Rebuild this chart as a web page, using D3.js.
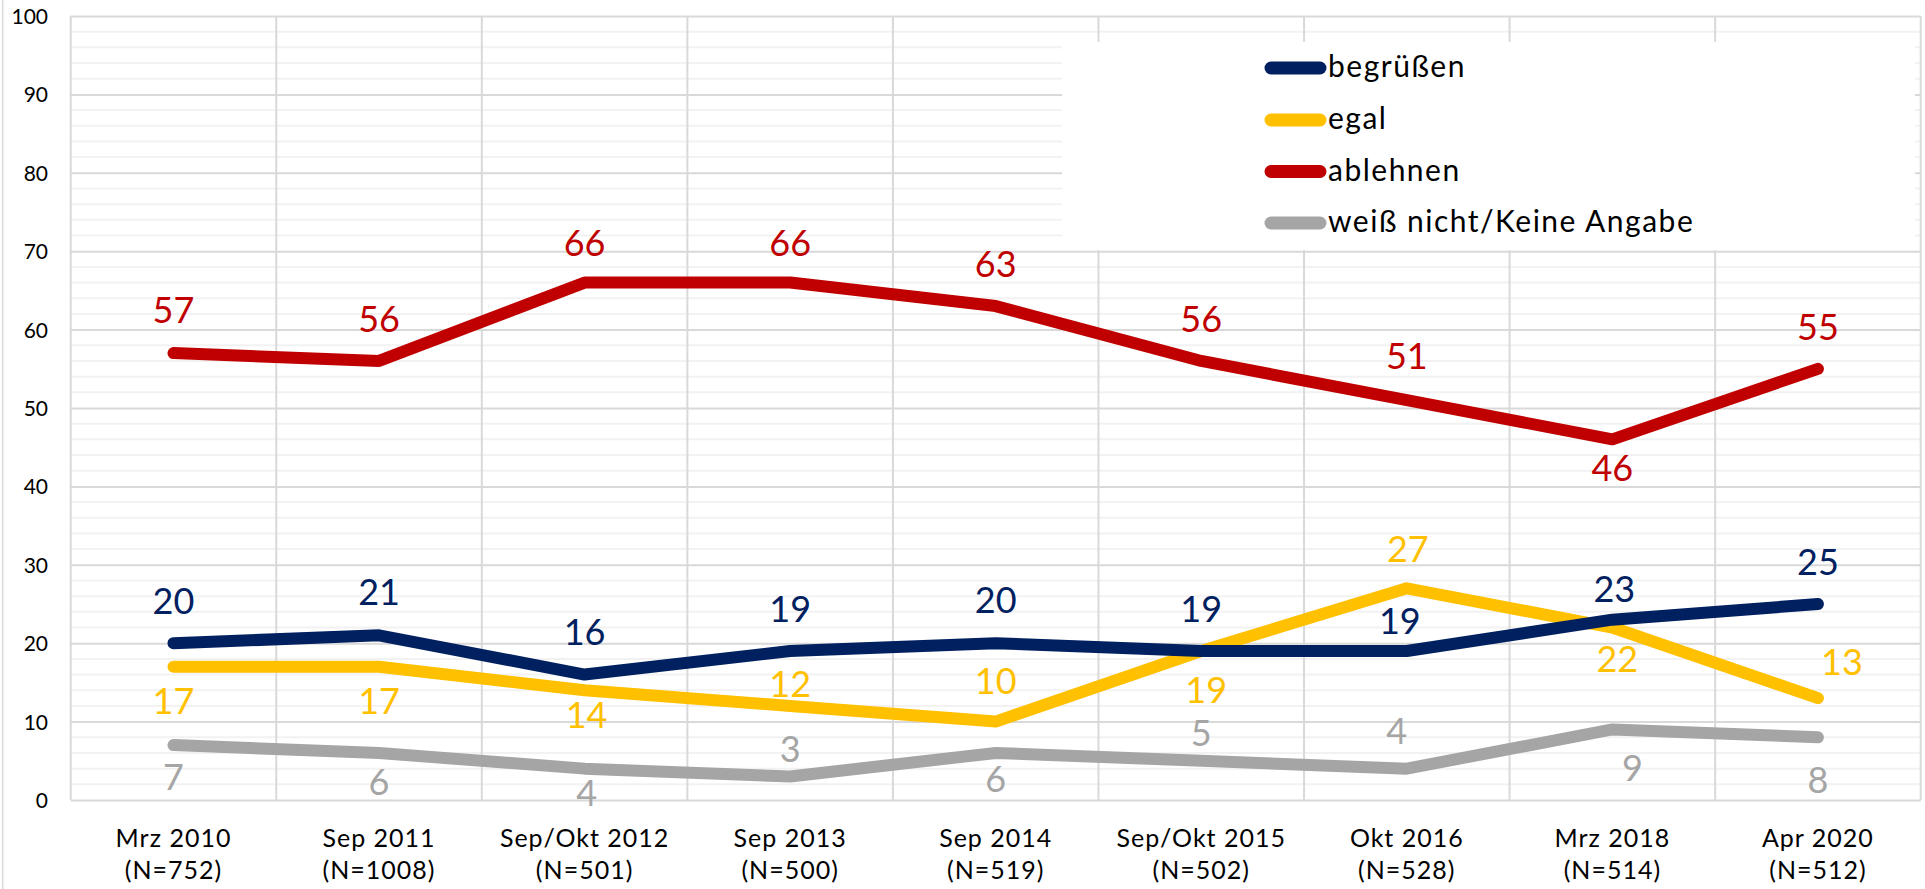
<!DOCTYPE html>
<html>
<head>
<meta charset="utf-8">
<script src="https://cdn.jsdelivr.net/npm/d3@7"></script>
<style>
  html, body { margin: 0; padding: 0; background: #ffffff; }
  svg { display: block; font-family: Lato, "Open Sans", sans-serif; }
</style>
</head>
<body>
<svg id="chart" width="1925" height="889"></svg>
<script>
// ---------- data ----------
const categories = ["Mrz 2010", "Sep 2011", "Sep/Okt 2012", "Sep 2013", "Sep 2014",
                    "Sep/Okt 2015", "Okt 2016", "Mrz 2018", "Apr 2020"];
const sampleSizes = ["(N=752)", "(N=1008)", "(N=501)", "(N=500)", "(N=519)",
                     "(N=502)", "(N=528)", "(N=514)", "(N=512)"];
const seriesNames = ["begrüßen", "egal", "ablehnen", "weiß nicht/Keine Angabe"];
const begruessen = [20, 21, 16, 19, 20, 19, 19, 23, 25];
const egal       = [17, 17, 14, 12, 10, 19, 27, 22, 13];
const ablehnen   = [57, 56, 66, 66, 63, 56, 51, 46, 55];
const weissNicht = [7, 6, 4, 3, 6, 5, 4, 9, 8];
const yTicks = [0, 10, 20, 30, 40, 50, 60, 70, 80, 90, 100];

// ---------- styles / label placement (kept apart from the data) ----------
const colors = ["#002060", "#FFC000", "#C00000", "#A5A5A5"];
// baseline offset of each value label relative to its point (px, + = below)
const labelDy = [
  [-29, -30, -30, -29, -30, -29, -17, -18, -29],
  [47, 47, 38, -9, -28, 52, -26, 44, -23],
  [-30, -29, -27, -27, -29, -29, -31, 42, -29],
  [45, 42, 37, -14, 39, -15, -25, 52, 56]
];
const labelDx = [
  [0, 0, 0, 0, 0, 0, -7, 2, 0],
  [0, 0, 2, 0, 0, 5, 1, 5, 24],
  [0, 0, 0, 0, 0, 0, 0, 0, 0],
  [0, 0, 2, 0, 0, 0, -10, 20, 0]
];

const seriesValues = [begruessen, egal, ablehnen, weissNicht];

// ---------- layout ----------
const plot = { left: 70.7, right: 1920.7, top: 16, bottom: 800 };
const svg = d3.select("#chart");

const x = d3.scaleBand().domain(categories).range([plot.left, plot.right]).padding(0);
const y = d3.scaleLinear().domain([0, 100]).range([plot.bottom, plot.top]);
const cx = c => x(c) + x.bandwidth() / 2;

// outer chart border (left)
svg.append("line")
  .attr("x1", 2.7).attr("x2", 2.7).attr("y1", 0).attr("y2", 889)
  .attr("stroke", "#D9D9D9").attr("stroke-width", 1.5);

// minor horizontal gridlines (every 2)
const minor = d3.range(0, 101, 2).filter(v => v % 10 !== 0);
svg.append("g").selectAll("line").data(minor).join("line")
  .attr("x1", plot.left).attr("x2", plot.right)
  .attr("y1", d => y(d)).attr("y2", d => y(d))
  .attr("stroke", "#F2F2F2").attr("stroke-width", 2);

// vertical gridlines (category boundaries)
const vBounds = categories.map(c => x(c)).concat([plot.right]);
svg.append("g").selectAll("line").data(vBounds).join("line")
  .attr("x1", d => d).attr("x2", d => d)
  .attr("y1", plot.top).attr("y2", plot.bottom)
  .attr("stroke", "#D9D9D9").attr("stroke-width", 2);

// major horizontal gridlines via axis
const yGrid = svg.append("g")
  .attr("transform", `translate(${plot.left},0)`)
  .call(d3.axisLeft(y).tickValues(yTicks).tickSize(-(plot.right - plot.left)).tickFormat(""));
yGrid.select(".domain").remove();
yGrid.selectAll(".tick line").attr("stroke", "#D9D9D9").attr("stroke-width", 2);

// y tick labels
const yAxis = svg.append("g")
  .attr("transform", `translate(48,0)`)
  .call(d3.axisLeft(y).tickValues(yTicks).tickSize(0).tickPadding(0));
yAxis.select(".domain").remove();
yAxis.selectAll(".tick text")
  .attr("font-family", "Lato, sans-serif")
  .attr("font-size", 21).attr("fill", "#000").attr("x", 0).attr("dy", "0.36em");

// x labels (two lines)
const xAxis = svg.append("g")
  .attr("transform", `translate(0,${plot.bottom})`)
  .call(d3.axisBottom(x).tickSize(0).tickPadding(0));
xAxis.select(".domain").remove();
xAxis.selectAll(".tick text").each(function(d, i) {
  const t = d3.select(this);
  t.text(null).attr("y", 0).attr("dy", null)
    .attr("font-family", "Lato, sans-serif").attr("font-size", 25)
    .attr("letter-spacing", "1px").attr("fill", "#000");
  t.append("tspan").attr("x", 0).attr("y", 47).text(d);
  t.append("tspan").attr("x", 0).attr("y", 79).text(sampleSizes[i]);
});

// lines
const line = d3.line().x((d, i) => cx(categories[i])).y(d => y(d));
const drawOrder = [3, 2, 1, 0];
drawOrder.forEach(s => {
  svg.append("path")
    .datum(seriesValues[s])
    .attr("d", line)
    .attr("fill", "none")
    .attr("stroke", colors[s])
    .attr("stroke-width", 12)
    .attr("stroke-linecap", "round")
    .attr("stroke-linejoin", "round");
});

// value labels
seriesValues.forEach((vals, s) => {
  svg.append("g").selectAll("text").data(vals).join("text")
    .attr("x", (d, i) => cx(categories[i]) + labelDx[s][i])
    .attr("y", (d, i) => y(d) + labelDy[s][i])
    .attr("text-anchor", "middle")
    .attr("font-family", "Lato, sans-serif")
    .attr("font-size", 36)
    .attr("fill", colors[s])
    .text(d => d);
});

// legend
const lg = svg.append("g");
lg.append("rect")
  .attr("x", 1062).attr("y", 42).attr("width", 1915 - 1062).attr("height", 250 - 42)
  .attr("fill", "#ffffff");
const legendY = [68, 120, 171.5, 223];
seriesNames.forEach((name, s) => {
  lg.append("line")
    .attr("x1", 1271).attr("x2", 1320)
    .attr("y1", legendY[s]).attr("y2", legendY[s])
    .attr("stroke", colors[s]).attr("stroke-width", 13)
    .attr("stroke-linecap", "round");
  lg.append("text")
    .attr("x", 1328).attr("y", legendY[s] + 9)
    .attr("font-family", "Lato, sans-serif")
    .attr("font-size", 30)
    .attr("letter-spacing", "1.5px")
    .attr("fill", "#000")
    .text(name);
});
</script>
</body>
</html>
